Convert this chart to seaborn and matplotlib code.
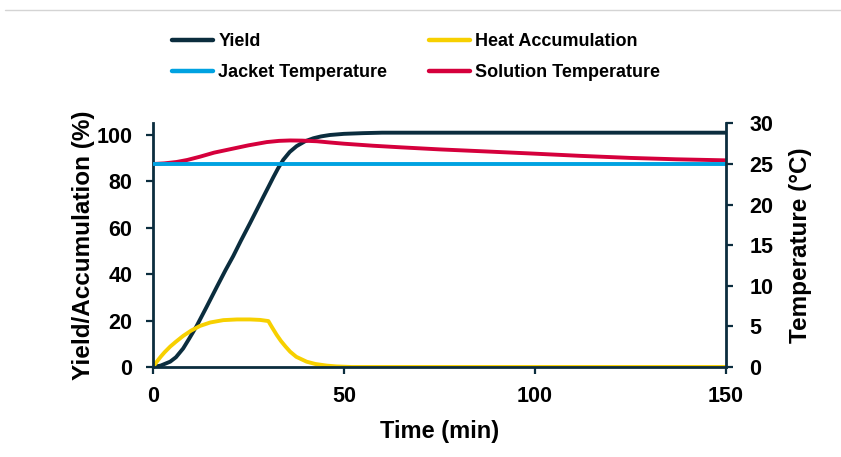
import numpy as np
import pandas as pd
import matplotlib
matplotlib.use("Agg")
import matplotlib.pyplot as plt
import seaborn as sns
from matplotlib.lines import Line2D

# ---- data ----
yield_time = [0, 2, 4.5, 6, 7.9, 9.5, 11.4, 14, 16.7, 19, 21, 23, 25.4, 27, 28.9, 30.3,
              31.5, 32.8, 34.1, 35.8, 37.6, 39.8, 42, 44, 46.3, 50, 55, 60, 80, 100, 120, 150]
yield_vals = [0, 0.6, 2.3, 4.2, 8, 12.3, 17.6, 25.8, 34.5, 41.8, 47.8, 54.4, 62, 67.2, 73.4, 77.9,
              81.8, 85.8, 89.3, 92.7, 95.2, 97.3, 98.6, 99.4, 100, 100.5, 100.8, 101, 101, 101, 101, 101]

heat_time = [0, 1, 2, 3, 4.5, 6, 7.9, 10, 12.3, 15, 18.4, 22, 25.4, 28, 30.2, 31.2, 32.4,
             33.5, 34.7, 35.9, 37.5, 40.2, 42.5, 45.5, 48, 52, 60, 80, 100, 120, 150]
heat_vals = [0, 2.3, 4.4, 6.3, 8.8, 10.9, 13.4, 15.7, 17.7, 19.2, 20.2, 20.5, 20.5, 20.3, 19.8, 17, 13.8,
             11.2, 8.8, 6.6, 4.4, 2.3, 1.3, 0.6, 0.25, 0, 0, 0, 0, 0, 0]

jacket_time = [0, 150]
jacket_vals = [25, 25]

sol_time = [0, 3, 6.2, 9, 12.3, 16, 21, 25, 29.8, 33, 35.9, 39, 42.9, 46.3, 50, 57.6,
            65, 75, 87, 98.7, 112, 124.9, 137, 150]
sol_vals = [25, 25.08, 25.25, 25.5, 25.9, 26.4, 26.9, 27.3, 27.7, 27.85, 27.9, 27.88, 27.8, 27.65, 27.5, 27.25,
            27.05, 26.8, 26.55, 26.3, 26.0, 25.75, 25.58, 25.45]

x_ticks = [0, 50, 100, 150]
left_ticks = [0, 20, 40, 60, 80, 100]
right_ticks = [0, 5, 10, 15, 20, 25, 30]

C_YIELD = "#0b2d3e"
C_HEAT = "#f7d000"
C_JACKET = "#00a2e1"
C_SOL = "#d5003c"
C_AX = "#0b2d3e"

sns.set_style("white")
plt.rcParams["font.family"] = ["Liberation Sans", "DejaVu Sans"]
plt.rcParams["font.weight"] = "bold"
plt.rcParams["text.color"] = "black"
plt.rcParams["axes.labelcolor"] = "black"

fig = plt.figure(figsize=(8.41, 4.57), dpi=100)
ax = fig.add_axes([153/841, 1-367/457, (726-153)/841, (367-123.4)/457])
ax2 = ax.twinx()

lw = 2.8
df_y = pd.DataFrame({"t": yield_time, "v": yield_vals})
df_h = pd.DataFrame({"t": heat_time, "v": heat_vals})
df_j = pd.DataFrame({"t": jacket_time, "v": jacket_vals})
df_s = pd.DataFrame({"t": sol_time, "v": sol_vals})

sns.lineplot(data=df_y, x="t", y="v", ax=ax, color=C_YIELD, linewidth=lw, sort=False)
sns.lineplot(data=df_h, x="t", y="v", ax=ax, color=C_HEAT, linewidth=lw, sort=False)
sns.lineplot(data=df_s, x="t", y="v", ax=ax2, color=C_SOL, linewidth=lw, sort=False)
sns.lineplot(data=df_j, x="t", y="v", ax=ax2, color=C_JACKET, linewidth=lw, sort=False)

ax.set_xlim(0, 150)
ax.set_ylim(0, 105)
ax2.set_ylim(0, 30)
ax.set_xticks(x_ticks)
ax.set_yticks(left_ticks)
ax2.set_yticks(right_ticks)

for a in (ax, ax2):
    for s in a.spines.values():
        s.set_visible(False)
    a.tick_params(axis="both", which="major", labelsize=15.5, length=5, width=1.6,
                  color=C_AX, labelcolor="black")
    for lab in a.get_xticklabels() + a.get_yticklabels():
        lab.set_fontweight("bold")
ax.spines["left"].set_visible(True)
ax.spines["bottom"].set_visible(True)
ax2.spines["right"].set_visible(True)
for s in (ax.spines["left"], ax.spines["bottom"], ax2.spines["right"]):
    s.set_color(C_AX)
    s.set_linewidth(2.0)
ax.tick_params(axis="y", left=True, direction="out", pad=10)
ax.tick_params(axis="x", bottom=True, direction="out", pad=9)
ax2.tick_params(axis="y", right=True, direction="out", pad=12)

ax.set_xlabel("Time (min)", fontsize=17, fontweight="bold", labelpad=9, color="black")
ax.set_ylabel("Yield/Accumulation (%)", fontsize=17.5, fontweight="bold", labelpad=1, color="black")
ax2.set_ylabel("Temperature (\u00b0C)", fontsize=17.5, fontweight="bold", labelpad=11, color="black")

handles = [Line2D([], [], color=C_YIELD, lw=3.2),
           Line2D([], [], color=C_JACKET, lw=3.2),
           Line2D([], [], color=C_HEAT, lw=3.2),
           Line2D([], [], color=C_SOL, lw=3.2)]
labels = ["Yield", "Jacket Temperature", "Heat Accumulation", "Solution Temperature"]
leg = fig.legend(handles, labels, ncol=2, loc="upper left",
                 bbox_to_anchor=(172/841, 1-33/457), frameon=False, borderpad=0,
                 borderaxespad=0,
                 prop={"size": 13, "weight": "bold"},
                 handlelength=2.28, handletextpad=0.28, columnspacing=2.3,
                 labelspacing=0.77, labelcolor="black")

fig.add_artist(Line2D([5/841, 1], [1-10/457, 1-10/457], color="#d4d4d4", lw=1.0,
                      transform=fig.transFigure))

fig.savefig("out.png", dpi=100)
